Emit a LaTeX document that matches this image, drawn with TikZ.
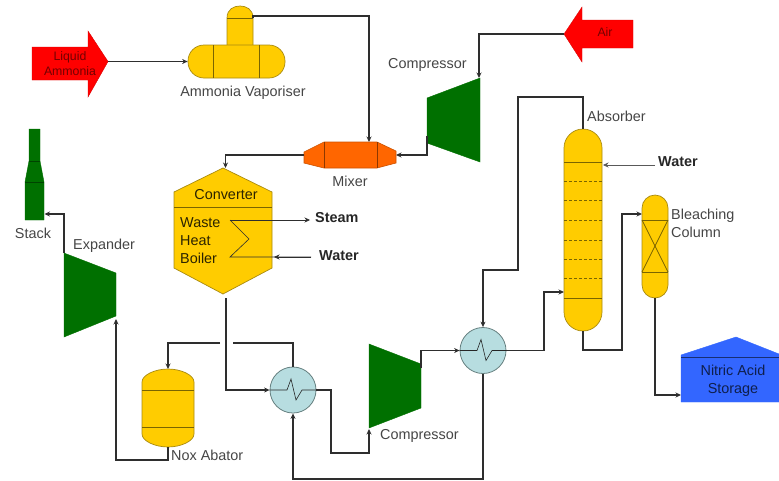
\documentclass[tikz,border=0pt]{standalone}
\usepackage{fontspec}
\setmainfont{Liberation Sans}
\usetikzlibrary{calc,arrows.meta}

\definecolor{vesselfill}{HTML}{FFCC00}
\definecolor{vesseledge}{HTML}{A88A10}
\definecolor{vesselline}{HTML}{7A6400}
\definecolor{turbinefill}{HTML}{007000}
\definecolor{mixerfill}{HTML}{FF6600}
\definecolor{feedfill}{HTML}{FF0000}
\definecolor{coolerfill}{HTML}{B7DDE0}
\definecolor{storefill}{HTML}{3366FF}
\definecolor{pipecolor}{HTML}{2E2E2E}
\definecolor{labelcolor}{HTML}{454545}

\begin{document}
\begin{tikzpicture}[
  x=1pt, y=-1pt,
  >={Stealth[length=5.5pt,width=5pt]},
  pointer/.style={->, pipecolor, line width=1.5pt},
  pipe/.style={pipecolor, line width=1.5pt},
  utility/.style={->, pipecolor, line width=0.6pt},
  vessel/.style={draw=vesseledge, fill=vesselfill, line width=0.7pt},
  rvessel/.style={vessel, inner sep=0pt},
  divider/.style={vesselline, line width=0.8pt},
  tray/.style={vesselline, line width=0.6pt, densely dashed},
  turbine/.style={draw=turbinefill, fill=turbinefill},
  feed/.style={draw=feedfill!85!black, fill=feedfill, line width=0.4pt},
  cooler/.style={circle, draw=gray!80!teal, fill=coolerfill, line width=0.8pt, minimum size=46pt, inner sep=0pt},
  label/.style={text=labelcolor, font=\fontsize{14.4}{18}\selectfont, inner sep=0pt},
  boldlabel/.style={text=black!85, font=\fontsize{14.4}{16}\selectfont\bfseries, inner sep=0pt},
  inlabel/.style={text=black!65!vesselline, font=\fontsize{14.4}{16}\selectfont, inner sep=0pt},
  feedlabel/.style={text=black!55!red, font=\fontsize{12.3}{15}\selectfont, inner sep=0pt, align=center}
]
\useasboundingbox (0,0) rectangle (779,480);

% --- Exchanger helper: name, (x,y) ---
\newcommand{\Exchanger}[3]{%
  \node[cooler] (#1) at (#2,#3) {};
  \draw[gray!30!black, line width=0.6pt] (#1.west) -- ($(#1.center)+(-6,0)$) -- ($(#1.center)+(-2,-11)$)
    -- ($(#1.center)+(3,10)$) -- ($(#1.center)+(9,0)$) -- (#1.east);
}

% --- Feed arrows ---
\draw[feed] (32,47) -- (88,47) -- (88,31) -- (108,61.5) coordinate (ammoniatip) -- (88,97) -- (88,80) -- (32,80) -- cycle;
\node[feedlabel] (ammonialabel) at (70,63.5) {Liquid\\Ammonia};
\draw[feed] (633,20) -- (582,20) -- (582,7) -- (564,34) coordinate (airtip) -- (582,62) -- (582,48) -- (633,48) -- cycle;
\node[feedlabel, font=\fontsize{12.2}{15}\selectfont] (airlabel) at (605,32) {Air};

% --- Vaporiser ---
\draw[vessel] (227,45) -- (227,18) .. controls (227,9) and (234,6) .. (240,6) .. controls (246,6) and (253,9) .. (253,18) coordinate (vapdome) -- (253,45);
\draw[divider] (227,18) -- (253,18);
\node[rvessel, rounded corners=16pt, minimum width=97pt, minimum height=33pt] (vaporiser) at (236.5,61.5) {};
\draw[divider] (213,45) -- (213,78);
\draw[divider] (259,45) -- (259,78);
\node[label] (vaporiserlabel) at (243,93) {Ammonia Vaporiser};

% --- Mixer ---
\draw[draw=mixerfill!80!black, fill=mixerfill, line width=0.6pt] (304,152) -- (324,142) -- (377,142) -- (396,151)
  -- (396,163) -- (377,168) -- (324,168) -- (304,163) -- cycle;
\draw[mixerfill!55!black, line width=0.7pt] (324,142) -- (324,168);
\draw[mixerfill!55!black, line width=0.7pt] (377,142) -- (377,168);
\coordinate (mixertop) at (369,142);
\coordinate (mixerleft) at (304,155);
\coordinate (mixerright) at (396,155);
\node[label] (mixerlabel) at (350,181) {Mixer};

% --- Converter ---
\draw[vessel] (223,168) -- (272,192) -- (272,268) -- (223,294) -- (174,268) -- (174,192) -- cycle;
\draw[divider] (174,207) -- (272,207);
\coordinate (convtop) at (225.5,168);
\coordinate (convbottom) at (226,298);
\node[inlabel] (convlabel) at (226,195) {Converter};
\node[inlabel, anchor=west] (wastelabel) at (180,223) {Waste};
\node[inlabel, anchor=west] (heatlabel) at (180,241) {Heat};
\node[inlabel, anchor=west] (boilerlabel) at (180,258) {Boiler};
\node[boldlabel, anchor=west] (steamlabel) at (315,218) {Steam};
\node[boldlabel, anchor=west] (waterlabel) at (319,256) {Water};
\coordinate (coilstart) at (230,220);
\coordinate (coilend) at (230,257);
\coordinate (steamend) at (310,220);
\coordinate (waterstart) at (311,257);
\draw[utility] (coilstart) -- (steamend);
\draw[pipecolor, line width=0.6pt] (coilstart) -- (249,239) -- (coilend) -- (waterstart);
\draw[utility] (waterstart) -- (274,257);

% --- Stack and expander ---
\draw[turbine] (29,129) -- (40,129) -- (40,161) -- (44,182) -- (44,220) -- (25,220) -- (25,182) -- (29,161) -- cycle;
\draw[turbinefill!60!black, line width=0.5pt] (29,161) -- (40,161);
\draw[turbinefill!60!black, line width=0.5pt] (25,182) -- (44,182);
\coordinate (stackin) at (44.5,214);
\node[label] (stacklabel) at (33,233) {Stack};
\draw[turbine] (64,253) coordinate (expout) -- (116,273) -- (116,316) -- (64,337) -- cycle;
\coordinate (expin) at (116,319);
\node[label, anchor=west] (expanderlabel) at (73,246) {Expander};

% --- Nox abator ---
\draw[vessel] (142,382) .. controls (142,375) and (155,369) .. (168,369) coordinate (noxtop) .. controls (181,369) and (194,375) .. (194,382)
  -- (194,434) .. controls (194,441) and (181,447) .. (168,447) coordinate (noxbottom) .. controls (155,447) and (142,441) .. (142,434) -- cycle;
\draw[divider] (142,390) -- (194,390);
\draw[divider] (142,427) -- (194,427);
\node[label, anchor=west] (noxlabel) at (171,455) {Nox Abator};

% --- Compressors ---
\draw[turbine] (427,98) -- (480,78) -- (480,162) -- (427,143) -- cycle;
\coordinate (compain) at (479,78);
\coordinate (compaleft) at (427,136);
\node[label, anchor=west] (compalabel) at (388,65) {Compressor};
\draw[turbine] (369,344) -- (421,364) -- (421,408) -- (369,428) -- cycle;
\coordinate (compbin) at (369,429);
\coordinate (compbout) at (421,368);
\node[label, anchor=west] (compblabel) at (380,436) {Compressor};

% --- Exchangers ---
\Exchanger{hxlow}{293}{390}
\Exchanger{hxhigh}{483}{350.5}

% --- Absorber ---
\node[rvessel, rounded corners=19pt, minimum width=38pt, minimum height=202pt] (absorber) at (583,230) {};
\draw[divider] (564,162) -- (602,162);
\draw[divider] (564,298) -- (602,298);
\foreach \trayy in {181,200,220,240,259,278}
  \draw[tray] (564,\trayy) -- (602,\trayy);
\coordinate (absorbin) at (564,292);
\node[label, anchor=west] (absorberlabel) at (587,116) {Absorber};
\node[boldlabel, anchor=west] (waterlabeltwo) at (658,162) {Water};
\coordinate (absorbwater) at (603,165);
\coordinate (waterfeed) at (655,165);
\draw[utility, draw=gray!70!black] (waterfeed) -- (absorbwater);

% --- Bleaching column ---
\node[rvessel, rounded corners=13pt, minimum width=26pt, minimum height=103pt] (bleach) at (655,246.5) {};
\draw[divider] (642,220) -- (668,220);
\draw[divider] (642,272) -- (668,272);
\draw[divider] (642,220) -- (668,272);
\draw[divider] (668,220) -- (642,272);
\coordinate (bleachin) at (642,214);
\node[label, anchor=west, align=left] (bleachlabel) at (671,223) {Bleaching\\Column};

% --- Storage ---
\draw[draw=storefill, fill=storefill] (681,402) -- (681,355) -- (736,337) -- (779,354) -- (779,402) -- cycle;
\draw[storefill!45!black, line width=0.6pt] (681,357) -- (779,357);
\coordinate (storein) at (681,395);
\node[text=storefill!30!black, font=\fontsize{14.4}{18}\selectfont, inner sep=0pt, align=center] (storelabel) at (733,381) {Nitric Acid\\Storage};

% --- Process pipes ---
\draw[pointer] (ammoniatip) -- (vaporiser.west);
\draw[pointer] (vapdome) -- ++(0,-2) -| (mixertop);
\draw[pointer] (airtip) -| (compain);
\draw[pointer] (compaleft) |- (mixerright);
\draw[pointer] (mixerleft) -| (convtop);
\draw[pointer] (convbottom) |- (hxlow.west);
\draw[pipe] (hxlow.north) |- (233,343);
\draw[pointer] (220,343) -| (noxtop);
\draw[pointer] (noxbottom) -- (168,460) -| (expin);
\draw[pointer] (expout) |- (stackin);
\draw[pointer] (hxlow.east) -- (331,390) |- (369,453) -- (compbin);
\draw[pointer] (compbout) |- (hxhigh.west);
\draw[pointer] (hxhigh.east) -- (544,350.5) |- (absorbin);
\draw[pointer] (absorber.north) -- (583,97) -| (518,270) -| (hxhigh.north);
\draw[pointer] (hxhigh.south) -- (483,479) -| (hxlow.south);
\draw[pointer] (absorber.south) -- (583,350) -| (622,214) -- (bleachin);
\draw[pointer] (bleach.south) |- (storein);

\end{tikzpicture}
\end{document}
